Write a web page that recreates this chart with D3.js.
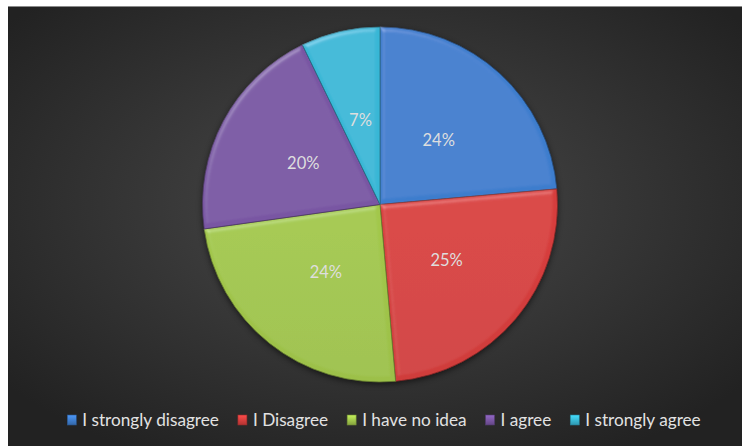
<!DOCTYPE html>
<html><head><meta charset="utf-8">
<script src="https://cdn.jsdelivr.net/npm/d3@7"></script>
<style>html,body{margin:0;padding:0;background:#fff;}svg{display:block;}</style>
</head><body>
<svg id="chart" width="742" height="446"></svg>
<script>
const categories = ["I strongly disagree", "I Disagree", "I have no idea", "I agree", "I strongly agree"];
const values = [23.6, 25.0, 24.2, 20.0, 7.2];
const colors = ["#3d7bc9", "#d33d3c", "#9fc34a", "#7754a0", "#38b4d2"];

const W = 742, H = 446;
const svg = d3.select("#chart");
const defs = svg.append("defs");

const bg = defs.append("radialGradient").attr("id","bg").attr("cx","50%").attr("cy","45%").attr("r","65%");
bg.append("stop").attr("offset","0%").attr("stop-color","#4a4a4a");
bg.append("stop").attr("offset","100%").attr("stop-color","#222222");
svg.append("rect").attr("x",0).attr("y",0).attr("width",W).attr("height",H).attr("fill","#fff");
svg.append("rect").attr("x",8).attr("y",6).attr("width",W-8).attr("height",H-6).attr("fill","#8a8a8a");
svg.append("rect").attr("x",8).attr("y",7).attr("width",W-8).attr("height",H-7).attr("fill","url(#bg)");

const f = defs.append("filter").attr("id","bevel").attr("x","-10%").attr("y","-10%").attr("width","120%").attr("height","120%");
f.append("feGaussianBlur").attr("in","SourceAlpha").attr("stdDeviation",2.5).attr("result","blur");
const sl = f.append("feSpecularLighting").attr("in","blur").attr("surfaceScale",3).attr("specularConstant",0.35)
  .attr("specularExponent",20).attr("lighting-color","#ffffff").attr("result","spec");
sl.append("feDistantLight").attr("azimuth",235).attr("elevation",40);
f.append("feComposite").attr("in","spec").attr("in2","SourceAlpha").attr("operator","in").attr("result","specIn");
f.append("feComposite").attr("in","SourceGraphic").attr("in2","specIn").attr("operator","arithmetic")
  .attr("k1",0).attr("k2",1).attr("k3",0.45).attr("k4",0);

const sh = defs.append("filter").attr("id","shadow").attr("x","-20%").attr("y","-20%").attr("width","140%").attr("height","140%");
sh.append("feGaussianBlur").attr("in","SourceAlpha").attr("stdDeviation",3);

colors.forEach((c,i)=>{
  const g = defs.append("linearGradient").attr("id","sg"+i).attr("gradientUnits","userSpaceOnUse")
    .attr("x1",0).attr("y1",27).attr("x2",0).attr("y2",382);
  g.append("stop").attr("offset","0%").attr("stop-color",d3.color(c).brighter(0.05));
  g.append("stop").attr("offset","100%").attr("stop-color",d3.color(c).darker(0.2));
  const m = defs.append("linearGradient").attr("id","lg"+i).attr("x1",0).attr("y1",0).attr("x2",0).attr("y2",1);
  m.append("stop").attr("offset","0%").attr("stop-color",d3.color(c).brighter(0.6));
  m.append("stop").attr("offset","100%").attr("stop-color",d3.color(c).darker(0.5));
});

const cx = 380, cy = 204.5, R = 177.5;
const pie = d3.pie().sort(null).value(d=>d.v);
const arcs = pie(values.map((v,i)=>({v, i})));
const arc = d3.arc().innerRadius(0).outerRadius(R);
const labelArc = d3.arc().innerRadius(R*0.98).outerRadius(R*0.98);
const total = d3.sum(values);

const g = svg.append("g").attr("transform",`translate(${cx},${cy})`);
g.append("circle").attr("r",R).attr("cy",2).attr("fill","#111").attr("opacity",0.6).attr("filter","url(#shadow)");
g.selectAll("path.slice").data(arcs).join("path").attr("class","slice")
  .attr("d",arc).attr("fill",d=>`url(#sg${d.data.i})`)
  .attr("stroke",d=>d3.color(colors[d.data.i]).darker(1.3)).attr("stroke-width",0.8)
  .attr("filter","url(#bevel)");

g.selectAll("text.lbl").data(arcs).join("text").attr("class","lbl")
  .attr("transform",d=>{const [x,y]=labelArc.centroid(d); return `translate(${x*0.5},${y*0.5})`;})
  .attr("text-anchor","middle").attr("dy","0.35em")
  .attr("font-family","Lato, 'Open Sans', sans-serif").attr("font-size",16.5).attr("fill","#dedede")
  .text(d=>Math.round(d.data.v/total*100)+"%");

const leg = svg.append("g");
const items = leg.selectAll("g").data(categories).join("g");
items.append("rect").attr("width",9).attr("height",10).attr("y",-5)
  .attr("fill",(d,i)=>`url(#lg${i})`).attr("stroke",(d,i)=>d3.color(colors[i]).darker(1)).attr("stroke-width",0.6);
items.append("text").attr("x",15).attr("dy","0.35em")
  .attr("font-family","Lato, 'Open Sans', sans-serif").attr("font-size",17.2).attr("fill","#e2e2e2")
  .text(d=>d);
let x = 0; const pos=[];
items.each(function(){ const w = this.querySelector("text").getComputedTextLength(); pos.push(x); x += 15 + w + 19; });
const totalW = x - 19;
const startX = 384 - totalW/2;
items.attr("transform",(d,i)=>`translate(${startX+pos[i]},420)`);
</script>
</body></html>
